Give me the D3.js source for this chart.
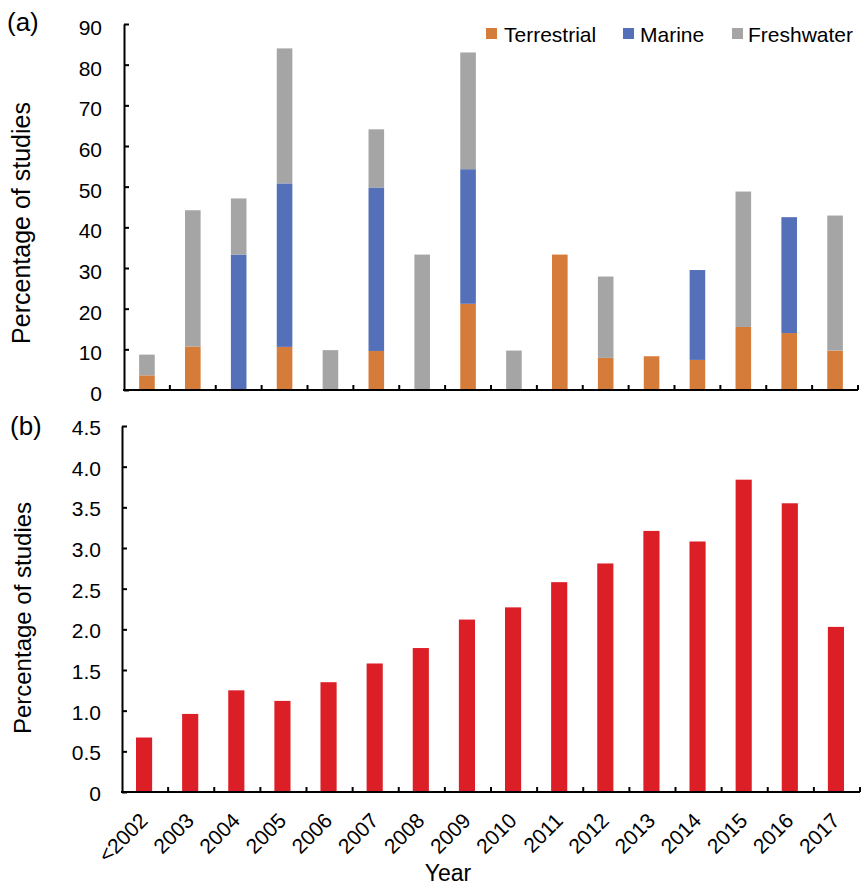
<!DOCTYPE html>
<html>
<head>
<meta charset="utf-8">
<script src="https://cdn.jsdelivr.net/npm/d3@7"></script>
<style>
  html, body { margin: 0; padding: 0; background: #fff; }
  svg { display: block; font-family: "Liberation Sans", Arial, Helvetica, sans-serif; }
</style>
</head>
<body>
<svg id="chart" width="861" height="885"></svg>
<script>
// ---- Data ----
const categories = ["<2002","2003","2004","2005","2006","2007","2008","2009","2010","2011","2012","2013","2014","2015","2016","2017"];
const terrestrial = [3.6, 10.7, 0, 10.6, 0, 9.6, 0, 21.2, 0, 33.3, 7.9, 8.3, 7.4, 15.5, 14.0, 9.7];
const marine      = [0, 0, 33.3, 40.2, 0, 40.2, 0, 33.1, 0, 0, 0, 0, 22.1, 0, 28.5, 0];
const freshwater  = [5.1, 33.5, 13.8, 33.2, 9.8, 14.3, 33.3, 28.7, 9.7, 0, 20.0, 0, 0, 33.3, 0, 33.2];
const allStudies  = [0.67, 0.96, 1.25, 1.12, 1.35, 1.58, 1.77, 2.12, 2.27, 2.58, 2.81, 3.21, 3.08, 3.84, 3.55, 2.03];
const seriesNames = ["Terrestrial", "Marine", "Freshwater"];
const topTicks = [0, 10, 20, 30, 40, 50, 60, 70, 80, 90];
const bottomTicks = [0, 0.5, 1.0, 1.5, 2.0, 2.5, 3.0, 3.5, 4.0, 4.5];

const colors = { Terrestrial: "#D67C3A", Marine: "#5470B8", Freshwater: "#A5A5A5" };
const redColor = "#DC1F27";

const svg = d3.select("#chart");

// ---- Panel (a) ----
const A = { left: 124, right: 858, top: 24, bottom: 390 };
const xA = d3.scaleBand().domain(categories).range([A.left, A.right]);
const yA = d3.scaleLinear().domain([0, 90]).range([A.bottom, A.top]);

const table = categories.map((c, i) => ({ cat: c, Terrestrial: terrestrial[i], Marine: marine[i], Freshwater: freshwater[i] }));
const stacked = d3.stack().keys(seriesNames)(table);
const barWA = xA.bandwidth() * 0.34;

const gA = svg.append("g");
gA.selectAll("g.series").data(stacked).join("g")
  .attr("fill", d => colors[d.key])
  .selectAll("rect").data(d => d).join("rect")
  .attr("x", d => xA(d.data.cat) + xA.bandwidth() / 2 - barWA / 2)
  .attr("width", barWA)
  .attr("y", d => yA(d[1]))
  .attr("height", d => Math.max(0, yA(d[0]) - yA(d[1])));

// y axis (a)
const yAxisA = d3.axisLeft(yA).tickValues(topTicks).tickSizeInner(-5).tickSizeOuter(0).tickPadding(22);
const gyA = svg.append("g").attr("transform", `translate(${A.left},0)`).call(yAxisA);
gyA.select(".domain").attr("stroke", "#000").attr("stroke-width", 2);
gyA.selectAll(".tick line").attr("stroke", "#000").attr("stroke-width", 2);
gyA.selectAll(".tick text").attr("font-size", 21).attr("fill", "#000").attr("dy", "0.5em");

// x axis lines with boundary ticks
function drawXAxis(x, yPos, left, right) {
  const g = svg.append("g");
  g.append("line").attr("x1", left - 1).attr("x2", right).attr("y1", yPos).attr("y2", yPos)
    .attr("stroke", "#000").attr("stroke-width", 2);
  const bounds = categories.slice(1).map(c => x(c)).concat([right]);
  g.selectAll("line.tk").data(bounds).join("line").attr("class", "tk")
    .attr("x1", d => d).attr("x2", d => d).attr("y1", yPos).attr("y2", yPos - 5)
    .attr("stroke", "#000").attr("stroke-width", 2);
  return g;
}
drawXAxis(xA, A.bottom, A.left, A.right);

// legend
const legendItems = [
  { name: "Terrestrial", sx: 486, tx: 504 },
  { name: "Marine", sx: 623, tx: 640 },
  { name: "Freshwater", sx: 732, tx: 748 }
];
const gL = svg.append("g");
gL.selectAll("rect").data(legendItems).join("rect")
  .attr("x", d => d.sx).attr("y", 28).attr("width", 11).attr("height", 11)
  .attr("fill", d => colors[d.name]);
gL.selectAll("text").data(legendItems).join("text")
  .attr("x", d => d.tx).attr("y", 42).attr("font-size", 21).attr("fill", "#000")
  .text(d => d.name);

// ---- Panel (b) ----
const B = { left: 122, right: 860, top: 426, bottom: 792 };
const xB = d3.scaleBand().domain(categories).range([B.left, B.right]);
const yB = d3.scaleLinear().domain([0, 4.5]).range([B.bottom, B.top]);
const barWB = xB.bandwidth() * 0.35;

svg.append("g").selectAll("rect").data(categories).join("rect")
  .attr("x", (c) => xB(c) + xB.bandwidth() / 2 - barWB / 2 - 1)
  .attr("width", barWB)
  .attr("y", (c, i) => yB(allStudies[i]))
  .attr("height", (c, i) => yB(0) - yB(allStudies[i]))
  .attr("fill", redColor);

const yAxisB = d3.axisLeft(yB).tickValues(bottomTicks).tickSizeInner(-5).tickSizeOuter(0).tickPadding(21)
  .tickFormat(d => d === 0 ? "0" : d3.format(".1f")(d));
const gyB = svg.append("g").attr("transform", `translate(${B.left},0)`).call(yAxisB);
gyB.select(".domain").attr("stroke", "#000").attr("stroke-width", 2);
gyB.selectAll(".tick line").attr("stroke", "#000").attr("stroke-width", 2);
gyB.selectAll(".tick text").attr("font-size", 21).attr("fill", "#000").attr("dy", "0.4em");

drawXAxis(xB, B.bottom, B.left, B.right);

// x tick labels (rotated)
svg.append("g").selectAll("text").data(categories).join("text")
  .attr("transform", c => `translate(${xB(c) + xB.bandwidth() / 2 + 4},822) rotate(-45)`)
  .attr("text-anchor", "end")
  .attr("font-size", 21)
  .attr("fill", "#000")
  .text(c => c);

// axis titles
svg.append("text").attr("x", 448).attr("y", 881).attr("text-anchor", "middle")
  .attr("font-size", 23).attr("fill", "#000").text("Year");

svg.append("text").attr("transform", "translate(30,223) rotate(-90)").attr("text-anchor", "middle")
  .attr("font-size", 25).attr("fill", "#000").text("Percentage of studies");
svg.append("text").attr("transform", "translate(31,618) rotate(-90)").attr("text-anchor", "middle")
  .attr("font-size", 24).attr("fill", "#000").text("Percentage of studies");

// panel labels
svg.append("text").attr("x", 7).attr("y", 31).attr("font-size", 26).attr("fill", "#000").text("(a)");
svg.append("text").attr("x", 10).attr("y", 435).attr("font-size", 26).attr("fill", "#000").text("(b)");
</script>
</body>
</html>
